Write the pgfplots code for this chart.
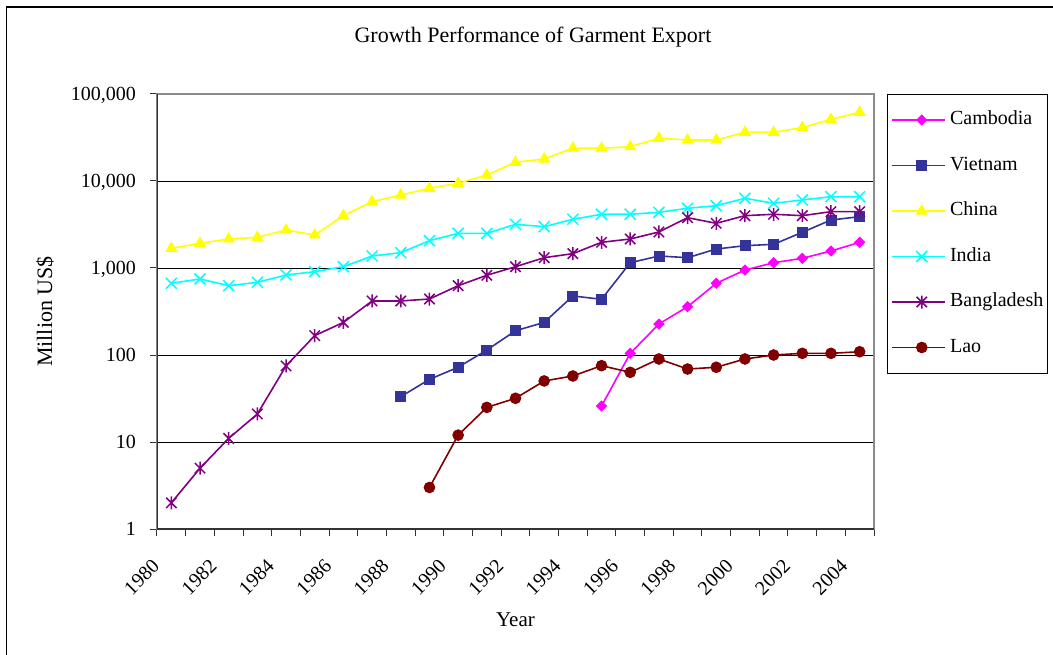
\documentclass[border=0pt]{standalone}
\usepackage{pgfplots}
\pgfplotsset{compat=1.18}
\usepackage{fontspec}
\setmainfont{Liberation Serif}
\definecolor{cCam}{HTML}{FF00FF}
\definecolor{cVie}{HTML}{333399}
\definecolor{cChi}{HTML}{FFFF00}
\definecolor{cInd}{HTML}{00FFFF}
\definecolor{cBan}{HTML}{800080}
\definecolor{cLao}{HTML}{800000}
\pgfdeclareplotmark{xstar}{%
 \pgfpathmoveto{\pgfqpoint{-.8\pgfplotmarksize}{-.8\pgfplotmarksize}}%
 \pgfpathlineto{\pgfqpoint{.8\pgfplotmarksize}{.8\pgfplotmarksize}}%
 \pgfpathmoveto{\pgfqpoint{-.8\pgfplotmarksize}{.8\pgfplotmarksize}}%
 \pgfpathlineto{\pgfqpoint{.8\pgfplotmarksize}{-.8\pgfplotmarksize}}%
 \pgfpathmoveto{\pgfqpoint{0pt}{-\pgfplotmarksize}}%
 \pgfpathlineto{\pgfqpoint{0pt}{\pgfplotmarksize}}%
 \pgfusepathqstroke}
\begin{document}
\begin{tikzpicture}
\useasboundingbox (-157bp,-126bp) rectangle (896bp,529bp);
\draw[black, line width=1.2bp] (-150.5bp,-130bp) -- (-150.5bp,522bp) -- (900bp,522bp);
\begin{axis}[
  at={(0,0)}, anchor=south west,
  scale only axis, width=717bp, height=435bp,
  xmin=-0.5, xmax=24.5,
  ymode=log, log basis y=10, ymin=1, ymax=100000,
  axis line style={draw=black!45, line width=1.3bp},
  tick align=outside, tick pos=left,
  major tick length=7bp,
  tick style={black!80, line width=1bp},
  xtick={-0.5,0.5,1.5,2.5,3.5,4.5,5.5,6.5,7.5,8.5,9.5,10.5,11.5,12.5,13.5,14.5,15.5,16.5,17.5,18.5,19.5,20.5,21.5,22.5,23.5,24.5},
  xticklabels={1980,,1982,,1984,,1986,,1988,,1990,,1992,,1994,,1996,,1998,,2000,,2002,,2004,},
  xticklabel style={yshift=-27bp, xshift=-1bp, rotate=45, anchor=east, inner sep=0pt, font=\fontsize{20bp}{24bp}\selectfont},
  ytick={1,10,100,1000,10000,100000},
  yticklabels={1,10,100,{1,000},{10,000},{100,000}},
  yticklabel style={anchor=base east, inner sep=0pt, xshift=-14bp, yshift=-6.8bp, font=\fontsize{20bp}{24bp}\selectfont},
  minor y tick num=0,
  ymajorgrids, major grid style={black, line width=0.9bp},
  title={Growth Performance of Garment Export},
  title style={at={(axis description cs:0.5244,1.1057)}, anchor=base, font=\fontsize{22bp}{26bp}\selectfont},
  xlabel={Year},
  xlabel style={at={(axis description cs:0.5,-0.2230)}, anchor=base, font=\fontsize{21bp}{25bp}\selectfont},
  ylabel={Million US\$},
  ylabel style={at={(axis description cs:-0.1464,0.5)}, anchor=base, rotate=0, font=\fontsize{22bp}{26bp}\selectfont},
  legend style={at={(axis description cs:1.0181,1)}, anchor=north west, draw=black, line width=1bp,
    inner xsep=4bp, inner ysep=16bp, row sep=26.5bp, column sep=4bp,
    nodes={inner sep=0pt, text height=14bp, text depth=5bp},
    font=\fontsize{20bp}{24bp}\selectfont},
  legend cell align=left,
  legend image code/.code={\path (-6bp,0bp) -- (47bp,0bp);
    \draw[mark repeat=2,mark phase=2,#1] plot coordinates {(0bp,0bp) (23.5bp,0bp) (47bp,0bp)};},
  every axis plot/.append style={line width=1.6bp},
]
\addplot[cCam, mark=square*, mark size=3.6bp, mark options={rotate=45, line width=0.8bp, fill=cCam}] coordinates {
(15,25.9) (16,104.5) (17,227) (18,359) (19,667) (20,948) (21,1150) (22,1292) (23,1567) (24,1974)};
\addlegendentry{Cambodia}
\addplot[cVie, mark=square*, mark size=5bp, mark options={line width=0.8bp, fill=cVie}] coordinates {
(8,33.2) (9,52.5) (10,72.3) (11,114) (12,190) (13,237) (14,477) (15,437) (16,1150) (17,1374) (18,1314) (19,1653) (20,1805) (21,1872) (22,2572) (23,3564) (24,3890)};
\addlegendentry{Vietnam}
\addplot[cChi, mark=triangle*, mark size=6.2bp, mark options={line width=0.8bp, fill=cChi}] coordinates {
(0,1684) (1,1923) (2,2155) (3,2254) (4,2733) (5,2395) (6,3996) (7,5780) (8,6900) (9,8240) (10,9420) (11,11720) (12,16400) (13,17900) (14,23800) (15,23800) (16,24800) (17,31000) (18,29600) (19,29600) (20,36300) (21,36300) (22,41000) (23,51200) (24,61500)};
\addlegendentry{China}
\addplot[cInd, mark=x, mark size=7.8bp, mark options={line width=1.5bp}] coordinates {
(0,667) (1,748) (2,626) (3,685) (4,831) (5,907) (6,1035) (7,1374) (8,1500) (9,2061) (10,2500) (11,2500) (12,3178) (13,2985) (14,3630) (15,4145) (16,4145) (17,4366) (18,4856) (19,5200) (20,6330) (21,5546) (22,6050) (23,6600) (24,6600)};
\addlegendentry{India}
\addplot[cBan, mark=xstar, mark size=6.5bp, mark options={line width=1.5bp}] coordinates {
(0,2.0) (1,5.0) (2,11) (3,21) (4,75) (5,167) (6,237) (7,418) (8,418) (9,440) (10,626) (11,825) (12,1035) (13,1314) (14,1462) (15,1974) (16,2155) (17,2594) (18,3786) (19,3262) (20,3996) (21,4145) (22,3996) (23,4440) (24,4440)};
\addlegendentry{Bangladesh}
\addplot[cLao, mark=*, mark size=5.4bp, mark options={line width=0.8bp, fill=cLao}] coordinates {
(9,3.0) (10,12.0) (11,25) (12,31.8) (13,50.3) (14,57.4) (15,75.4) (16,63.2) (17,90) (18,69) (19,72.3) (20,90) (21,100) (22,104.5) (23,104.5) (24,109)};
\addlegendentry{Lao}
\draw[black!80, line width=1.3bp] (rel axis cs:0,1) -- (rel axis cs:0,0) -- (rel axis cs:1,0);
\end{axis}
\end{tikzpicture}
\end{document}
